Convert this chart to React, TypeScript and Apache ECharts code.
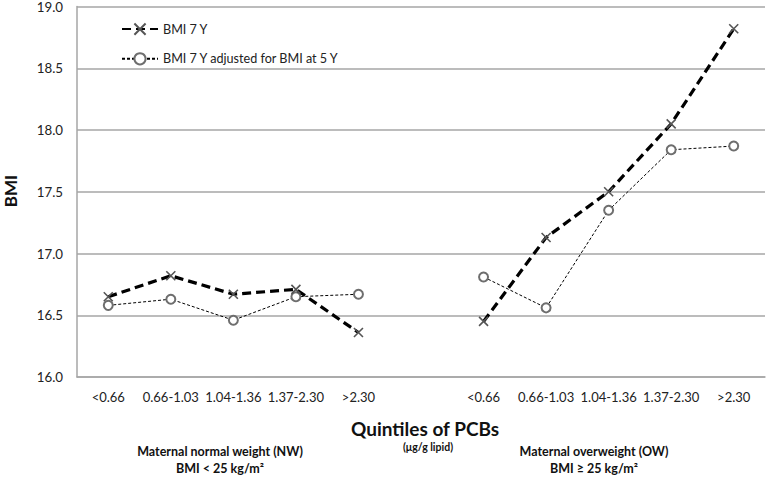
import React, { useEffect, useRef } from "react";
import * as echarts from "echarts";

const categories = ["<0.66", "0.66-1.03", "1.04-1.36", "1.37-2.30", ">2.30", "", "<0.66", "0.66-1.03", "1.04-1.36", "1.37-2.30", ">2.30"];
const bmi7y = [16.65, 16.82, 16.67, 16.71, 16.36, null, 16.45, 17.13, 17.5, 18.05, 18.82];
const bmi7yAdj = [16.58, 16.63, 16.46, 16.65, 16.67, null, 16.81, 16.56, 17.35, 17.84, 17.87];
const yTicks = { min: 16, max: 19, interval: 0.5 };

const FONT = "Lato";

export default function App() {
  const ref = useRef<HTMLDivElement>(null);
  useEffect(() => {
    if (!ref.current) return;
    const chart = echarts.init(ref.current, null, { renderer: "svg" });
    const cross = "path://M0,0L10,10M10,0L0,10";
    chart.setOption({
      animation: false,
      backgroundColor: "#ffffff",
      textStyle: { fontFamily: FONT },
      grid: { left: 77, right: 3, top: 6, bottom: 101 },
      legend: {
        orient: "vertical",
        left: 121,
        top: 21,
        padding: 0,
        itemWidth: 36,
        itemHeight: 14,
        itemGap: 15,
        textStyle: { fontFamily: FONT, fontSize: 12.6, color: "#222" },
        data: ["BMI 7 Y", "BMI 7 Y adjusted for BMI at 5 Y"],
      },
      xAxis: {
        type: "category",
        data: categories,
        boundaryGap: true,
        axisLine: { show: true, lineStyle: { color: "#a6a6a6", width: 1.5 } },
        axisTick: { show: false },
        axisLabel: { interval: 0, margin: 13, fontFamily: FONT, fontSize: 13, color: "#222" },
      },
      yAxis: {
        type: "value",
        min: yTicks.min,
        max: yTicks.max,
        interval: yTicks.interval,
        axisLine: { show: true, lineStyle: { color: "#a6a6a6", width: 1.5 } },
        axisTick: { show: false },
        splitLine: { show: true, lineStyle: { color: "#a6a6a6", width: 1.5 } },
        axisLabel: {
          margin: 14,
          fontFamily: FONT,
          fontSize: 13.3,
          color: "#222",
          formatter: (v: number) => v.toFixed(1),
        },
      },
      series: [
        {
          name: "BMI 7 Y",
          type: "line",
          data: bmi7y,
          connectNulls: false,
          symbol: cross,
          symbolSize: 9,
          lineStyle: { color: "#000", width: 3.2, type: [9, 5] },
          itemStyle: { color: "none", borderColor: "#555", borderWidth: 1.6 },
          z: 3,
        },
        {
          name: "BMI 7 Y adjusted for BMI at 5 Y",
          type: "line",
          data: bmi7yAdj,
          connectNulls: false,
          symbol: "circle",
          symbolSize: 9,
          showSymbol: true,
          lineStyle: { color: "#000", width: 1, type: [3, 2] },
          itemStyle: { color: "#fff", borderColor: "#6e6e6e", borderWidth: 2 },
          z: 2,
        },
      ],
      graphic: [
        {
          type: "text",
          x: 10,
          y: 191,
          rotation: Math.PI / 2,
          style: { text: "BMI", font: `bold 17px ${FONT}`, fill: "#111", align: "center", verticalAlign: "middle" },
        },
        {
          type: "text",
          x: 425,
          y: 428,
          style: { text: "Quintiles of PCBs", font: `bold 19px ${FONT}`, fill: "#111", align: "center", verticalAlign: "middle" },
        },
        {
          type: "text",
          x: 428,
          y: 447,
          style: { text: "(μg/g lipid)", font: `bold 10.5px ${FONT}`, fill: "#111", align: "center", verticalAlign: "middle" },
        },
        {
          type: "text",
          x: 220,
          y: 451,
          style: { text: "Maternal normal weight (NW)", font: `bold 12.5px ${FONT}`, fill: "#111", align: "center", verticalAlign: "middle" },
        },
        {
          type: "text",
          x: 220,
          y: 468,
          style: { text: "BMI < 25 kg/m²", font: `bold 12.5px ${FONT}`, fill: "#111", align: "center", verticalAlign: "middle" },
        },
        {
          type: "text",
          x: 594,
          y: 451,
          style: { text: "Maternal overweight (OW)", font: `bold 12.5px ${FONT}`, fill: "#111", align: "center", verticalAlign: "middle" },
        },
        {
          type: "text",
          x: 594,
          y: 468,
          style: { text: "BMI ≥ 25 kg/m²", font: `bold 12.5px ${FONT}`, fill: "#111", align: "center", verticalAlign: "middle" },
        },
      ],
    });
    return () => chart.dispose();
  }, []);
  return <div ref={ref} style={{ width: 768, height: 478, position: "absolute", left: 0, top: 0 }} />;
}
